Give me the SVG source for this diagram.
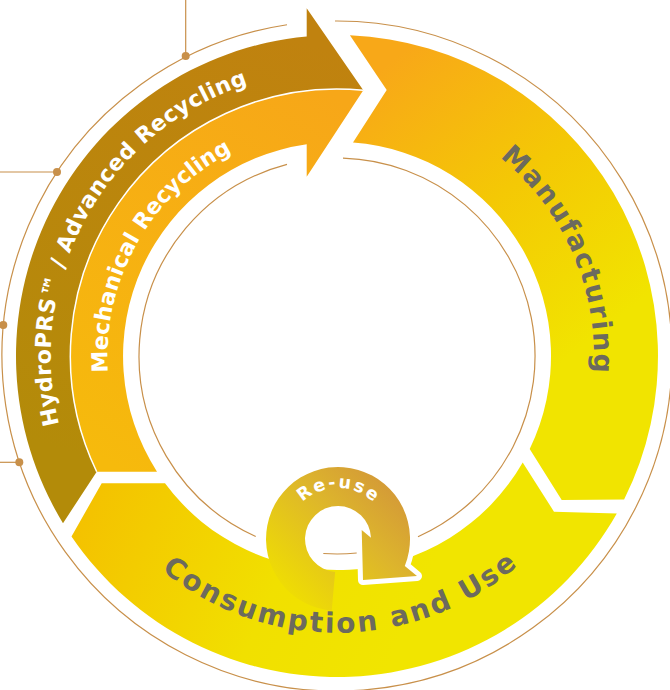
<svg xmlns="http://www.w3.org/2000/svg" width="670" height="690" viewBox="0 0 670 690">
  <defs>
    <style>
      .thin{fill:none;stroke:#C8904A;stroke-width:1.2}
      .dot{fill:#C8904A}
      .lbl{font-family:'DejaVu Sans','Open Sans',sans-serif;font-weight:700}
      .white{fill:#FFFFFF}
      .gray{fill:#6C6A5E}
    </style>
    <linearGradient id="gBrown" gradientUnits="userSpaceOnUse" x1="150" y1="480" x2="300" y2="40">
      <stop offset="0" stop-color="#B38B09"/>
      <stop offset="1" stop-color="#C0820F"/>
    </linearGradient>
    <linearGradient id="gOrange" gradientUnits="userSpaceOnUse" x1="120" y1="470" x2="340" y2="100">
      <stop offset="0" stop-color="#F6BA0C"/>
      <stop offset="1" stop-color="#F7A718"/>
    </linearGradient>
    <linearGradient id="gManu" gradientUnits="userSpaceOnUse" x1="380" y1="70" x2="590" y2="340">
      <stop offset="0" stop-color="#F8A818"/>
      <stop offset="0.5" stop-color="#F4C805"/>
      <stop offset="1" stop-color="#F1E400"/>
    </linearGradient>
    <linearGradient id="gCons" gradientUnits="userSpaceOnUse" x1="90" y1="500" x2="400" y2="640">
      <stop offset="0" stop-color="#F4C200"/>
      <stop offset="0.6" stop-color="#F1E000"/>
      <stop offset="1" stop-color="#F1E500"/>
    </linearGradient>
    <linearGradient id="gLoop" gradientUnits="userSpaceOnUse" x1="410" y1="470" x2="285" y2="600">
      <stop offset="0" stop-color="#D08F3C"/>
      <stop offset="0.45" stop-color="#DDB52C"/>
      <stop offset="1" stop-color="#F0E000"/>
    </linearGradient>
    <clipPath id="haloClip">
      <rect x="350" y="520" width="90" height="80"/>
    </clipPath>
    <path id="tpBrown" d="M 177,593.1 A 286 286 0 0 1 453.3,94.7"/>
    <path id="tpOrange" d="M 207.1,545.8 A 230 230 0 0 1 431.7,146.5"/>
    <path id="tpManu" d="M 255.5,112.3 A 257 257 0 0 1 459.6,581.9"/>
    <path id="tpCons" d="M 61.4,383.5 A 277 277 0 0 0 613.2,376.8"/>
    <path id="tpReuse" d="M 287,539 A 51 51 0 0 1 389,539"/>
  </defs>

  <g id="connectors">
    <path class="thin" d="M 335,21 A 335 335 0 1 1 287,24.75"/>
    <path class="thin" d="M 343,158.1 A 198 198 0 0 1 418,536.7"/>
    <path class="thin" d="M 255.7,536.5 A 198 198 0 0 1 287,164.4"/>
    <path class="thin" d="M 356.7,553 A 198 198 0 0 1 323.3,553.5"/>
    <path class="thin" d="M 185.7,0 V 56"/>
    <path class="thin" d="M 0,172 H 57"/>
    <path class="thin" d="M 0,462.3 H 19.3"/>
    <circle class="dot" cx="185.7" cy="56" r="4"/>
    <circle class="dot" cx="57" cy="172" r="4"/>
    <circle class="dot" cx="3.3" cy="325" r="4"/>
    <circle class="dot" cx="19.3" cy="462.3" r="4"/>
  </g>

  <g id="manufacturing">
    <path fill="url(#gManu)" d="M 349.9,35.3 A 321 321 0 0 1 624.1,499.6 L 561.7,500 L 529.7,449.1 A 214 214 0 0 0 353,142.6 L 386.7,90 Z"/>
    <text class="lbl gray" font-size="27"><textPath href="#tpManu" startOffset="50%" text-anchor="middle" textLength="244" lengthAdjust="spacing">Manufacturing</textPath></text>
  </g>

  <g id="consumption">
    <path fill="url(#gCons)" d="M 522.7,462.4 L 554,511.7 L 616.8,513.4 A 321 321 0 0 1 71.5,536.4 L 101.7,483.3 L 165,483.3 A 214 214 0 0 0 522.7,462.4 Z"/>
    <text class="lbl gray" font-size="28"><textPath href="#tpCons" startOffset="50%" text-anchor="middle" textLength="387" lengthAdjust="spacing">Consumption and Use</textPath></text>
  </g>

  <g id="advanced-recycling">
    <path fill="url(#gBrown)" d="M 63,523.2 A 321 321 0 0 1 306.7,36.4 L 306.7,8.3 L 363.3,90.3 A 267 267 0 0 0 96.7,471.7 Z"/>
    <text class="lbl white" font-size="22"><textPath href="#tpBrown" startOffset="50%" text-anchor="middle" textLength="428" lengthAdjust="spacing">HydroPRS™ / Advanced Recycling</textPath></text>
  </g>

  <g id="mechanical-recycling">
    <path fill="url(#gOrange)" d="M 96.7,471.7 A 267 267 0 0 1 363.3,90.3 L 306.7,176.7 L 306.7,144.2 A 214 214 0 0 0 157,471.7 Z"/>
    <path fill="none" stroke="#FFFFFF" stroke-width="1.5" d="M 96.7,471.7 A 267 267 0 0 1 363.3,90.3"/>
    <text class="lbl white" font-size="22"><textPath href="#tpOrange" startOffset="50%" text-anchor="middle" textLength="268" lengthAdjust="spacing">Mechanical Recycling</textPath></text>
  </g>

  <g id="reuse">
    <path clip-path="url(#haloClip)" fill="#FFFFFF" stroke="#FFFFFF" stroke-width="10" stroke-linejoin="round" d="M 335.1,571.9 A 33 33 0 1 1 371,537.7 L 361.7,530 L 363,580 L 417,576 L 404.8,565.9 A 72 72 0 1 0 331.7,610.7 Z"/>
    <path fill="url(#gLoop)" d="M 335.1,571.9 A 33 33 0 1 1 371,537.7 L 361.7,530 L 363,580 L 417,576 L 404.8,565.9 A 72 72 0 1 0 331.7,610.7 Z"/>
    <text class="lbl white" font-size="17.5"><textPath href="#tpReuse" startOffset="50%" text-anchor="middle" textLength="78" lengthAdjust="spacing">Re-use</textPath></text>
  </g>
</svg>
